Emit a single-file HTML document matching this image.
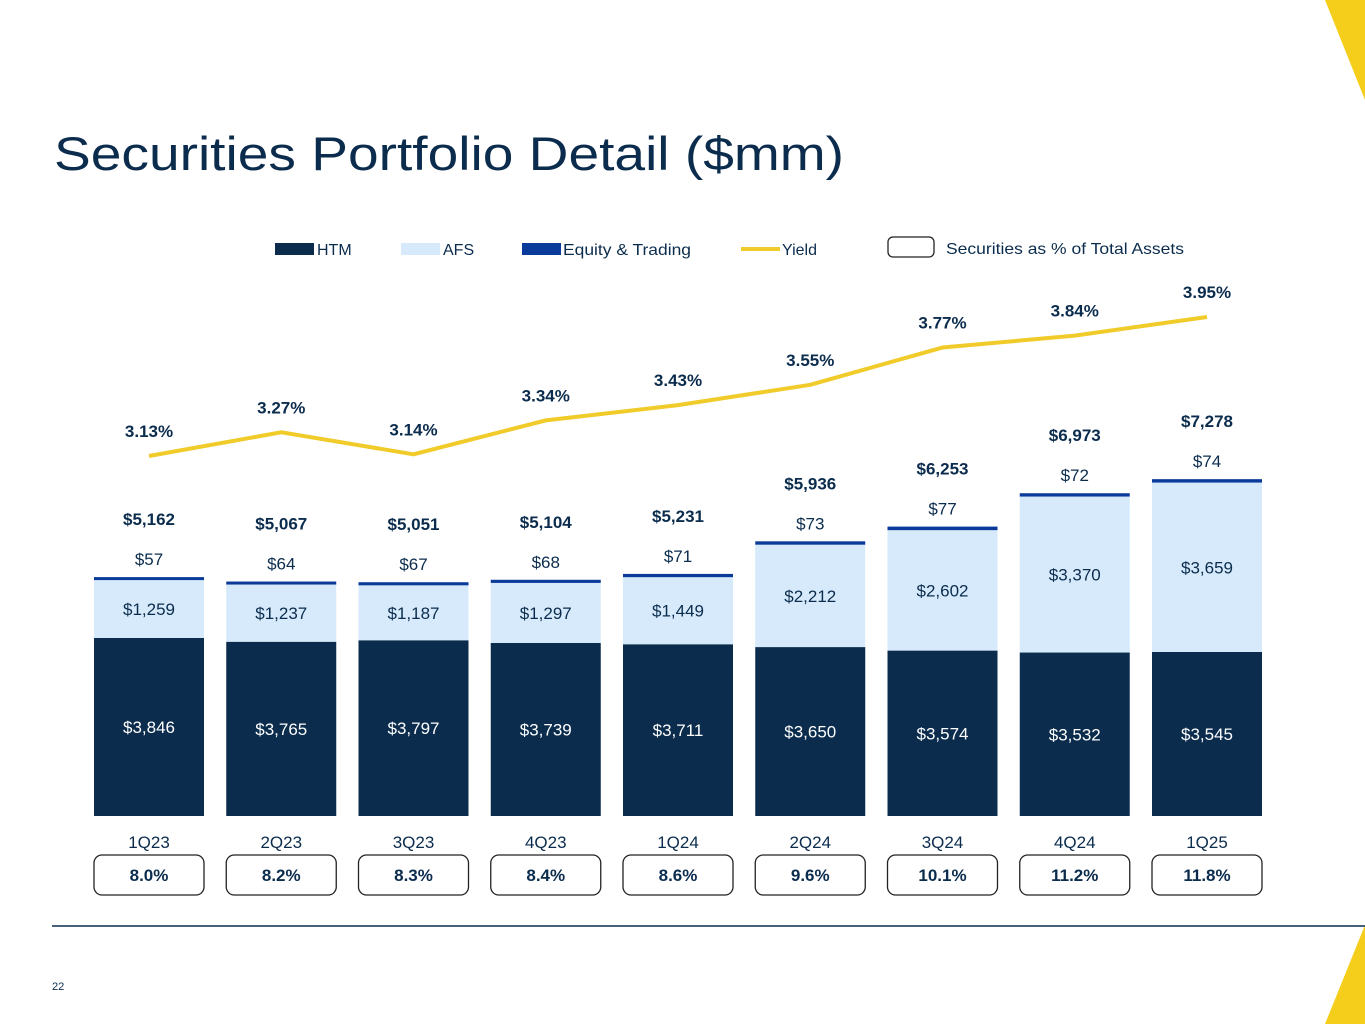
<!DOCTYPE html>
<html><head><meta charset="utf-8"><style>
body{margin:0;width:1365px;height:1024px;overflow:hidden;background:#fff;font-family:"Liberation Sans",sans-serif;}
svg text{font-family:"Liberation Sans",sans-serif;}
</style></head><body>
<svg width="1365" height="1024">
<polygon points="1325,0 1365,0 1365,100" fill="#f5ce1c"/>
<polygon points="1325,1024 1365,1024 1365,925" fill="#f5ce1c"/>
<text x="54" y="170" font-size="47" fill="#0b2c4d" textLength="790" lengthAdjust="spacingAndGlyphs">Securities Portfolio Detail ($mm)</text>
<g font-size="16" fill="#0b2c4d">
<rect x="275" y="243" width="39" height="12" fill="#0b2c4d"/><text x="317" y="255">HTM</text>
<rect x="401" y="243" width="39" height="12" fill="#d6eafb"/><text x="443" y="255">AFS</text>
<rect x="522" y="243" width="39" height="12" fill="#0a3a9a"/><text x="563" y="255" textLength="128" lengthAdjust="spacingAndGlyphs">Equity &amp; Trading</text>
<rect x="741" y="247" width="39" height="4" fill="#f0cb2a"/><text x="782" y="255">Yield</text>
<rect x="888" y="237" width="46" height="20" rx="5" fill="#fff" stroke="#222" stroke-width="1.3"/><text x="946" y="254" textLength="238" lengthAdjust="spacingAndGlyphs">Securities as % of Total Assets</text>
</g>
<g id="chart"></g>
<line x1="52" y1="926" x2="1365" y2="926" stroke="#0b2c4d" stroke-width="1.5"/>
<text x="52" y="990" font-size="11" fill="#0b2c4d">22</text>
</svg>
<script>
const categories=["1Q23","2Q23","3Q23","4Q23","1Q24","2Q24","3Q24","4Q24","1Q25"];
const htm=[3846,3765,3797,3739,3711,3650,3574,3532,3545];
const afs=[1259,1237,1187,1297,1449,2212,2602,3370,3659];
const equity=[57,64,67,68,71,73,77,72,74];
const totals=["$5,162","$5,067","$5,051","$5,104","$5,231","$5,936","$6,253","$6,973","$7,278"];
const yieldVals=[3.13,3.27,3.14,3.34,3.43,3.55,3.77,3.84,3.95];
const pctAssets=["8.0%","8.2%","8.3%","8.4%","8.6%","9.6%","10.1%","11.2%","11.8%"];
const NS="http://www.w3.org/2000/svg";
const g=document.getElementById('chart');
const base=816,k=178/3846,bw=110;
const xC=i=>149+i*132.25;
const yV=v=>base-v*k;
const yY=v=>456-(v-3.13)*169.5;
const fmt=v=>"$"+v.toLocaleString("en-US");
function mk(t,a,txt){const e=document.createElementNS(NS,t);for(const n in a)e.setAttribute(n,a[n]);if(txt!==undefined)e.textContent=txt;g.appendChild(e);return e;}
categories.forEach((c,i)=>{
 const x=xC(i)-bw/2;
 const t1=yV(htm[i]),t2=yV(htm[i]+afs[i]),t3=yV(htm[i]+afs[i]+equity[i]);
 let r=mk('rect',{x:x,y:t1,width:bw,height:base-t1,fill:'#0b2c4d'});
 
 
 r=mk('rect',{x:x,y:t2,width:bw,height:t1-t2,fill:'#d6eafb'});
 
 
 r=mk('rect',{x:x,y:t3,width:bw,height:Math.max(3,t2-t3),fill:'#0a3a9a'});
 
 
 let t=mk('text',{x:xC(i),y:(t1+base)/2+6,'text-anchor':'middle','font-size':17,fill:'#fff'},fmt(htm[i]));
 
 
 t=mk('text',{x:xC(i),y:(t1+t2)/2+6,'text-anchor':'middle','font-size':17,fill:'#0b2c4d'},fmt(afs[i]));
 
 
 t=mk('text',{x:xC(i),y:t3-12,'text-anchor':'middle','font-size':17,fill:'#0b2c4d'},fmt(equity[i]));
 
 
 t=mk('text',{x:xC(i),y:t3-52,'text-anchor':'middle','font-size':17,'font-weight':'bold',fill:'#0b2c4d'},totals[i]);
 
 
 t=mk('text',{x:xC(i),y:848,'text-anchor':'middle','font-size':17,fill:'#0b2c4d'},c);
 
 
 r=mk('rect',{x:x,y:855,width:bw,height:40,rx:8,fill:'#fff',stroke:'#222','stroke-width':1.3});
 
 
 t=mk('text',{x:xC(i),y:881,'text-anchor':'middle','font-size':17,'font-weight':'bold',fill:'#0b2c4d'},pctAssets[i]);
 
 
 t=mk('text',{x:xC(i),y:yY(yieldVals[i])-19,'text-anchor':'middle','font-size':17,'font-weight':'bold',fill:'#0b2c4d'},yieldVals[i].toFixed(2)+"%");
 
 
});
const pl=mk('polyline',{points:yieldVals.map((v,i)=>xC(i)+","+yY(v)).join(" "),fill:'none',stroke:'#f0cb2a','stroke-width':4});


</script>
</body></html>
